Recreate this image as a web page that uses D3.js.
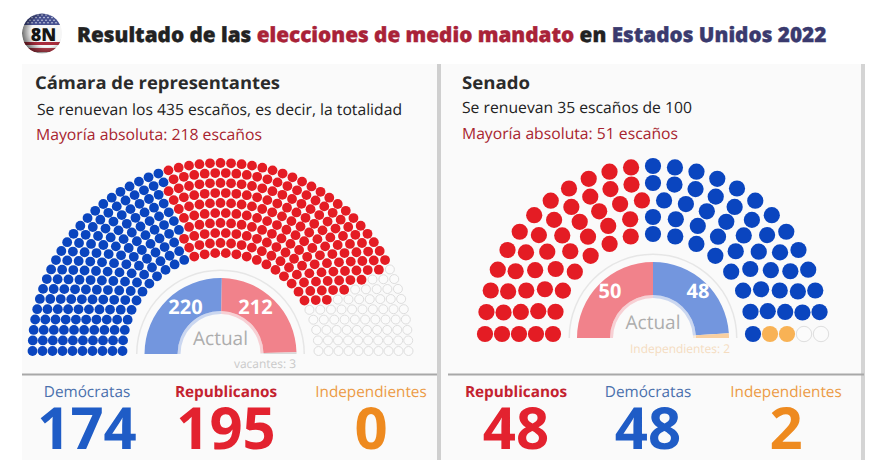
<!DOCTYPE html>
<html>
<head>
<meta charset="utf-8">
<script src="https://cdn.jsdelivr.net/npm/d3@7"></script>
<style>
  body { margin: 0; background: #fff; }
  text { font-family: "Open Sans", sans-serif; text-rendering: geometricPrecision; }
</style>
</head>
<body>
<div id="chart"></div>
<script>
// seats per party, in the order they fill the hemicycle from the left
const houseParties = ['dem', 'rep', 'ind', 'empty'];
const houseSeats = [174, 195, 0, 66];
const houseRows = [30, 33, 36, 39, 42, 45, 48, 51, 54, 57];

const senateParties = ['rep', 'dem', 'ind', 'empty'];
const senateSeats = [48, 48, 2, 2];
const senateRows = [15, 17, 20, 23, 25];

// current composition, inner gauges
const houseActual = [220, 212, 3];
const houseActualParties = ['dem', 'rep', 'vac'];
const senateActual = [50, 48, 2];
const senateActualParties = ['rep', 'dem', 'ind'];

const houseTotals = ['Demócratas', 'Republicanos', 'Independientes'];
const houseTotalValues = [174, 195, 0];
const senateTotals = ['Republicanos', 'Demócratas', 'Independientes'];
const senateTotalValues = [48, 48, 2];

const seatColor = { dem: '#0a45bf', rep: '#e41c24', ind: '#f8b255', empty: '#fbfbfb' };
const gaugeColor = { dem: '#7396de', rep: '#f1828b', ind: '#f8cfa0', vac: '#d9d9d9' };
const labelColor = { 'Demócratas': '#4a70ad', 'Republicanos': '#c4222f', 'Independientes': '#ec9a45' };
const numberColor = { 'Demócratas': '#1f5cc6', 'Republicanos': '#e3222f', 'Independientes': '#ee8a1f' };

const svg = d3.select('#chart').append('svg')
  .attr('width', 880)
  .attr('height', 460)
  .style('display', 'block');

// panels
svg.append('rect').attr('x', 22).attr('y', 64).attr('width', 415).attr('height', 396).attr('fill', '#fafafa');
svg.append('rect').attr('x', 441).attr('y', 64).attr('width', 421).attr('height', 396).attr('fill', '#fafafa');
svg.append('rect').attr('x', 437).attr('y', 64).attr('width', 4).attr('height', 396).attr('fill', '#cfcfcf');
svg.append('rect').attr('x', 861).attr('y', 64).attr('width', 4).attr('height', 396).attr('fill', '#d4d4d4');
svg.append('rect').attr('x', 22).attr('y', 373.5).attr('width', 415).attr('height', 2).attr('fill', '#a8a8a8');
svg.append('rect').attr('x', 448).attr('y', 373.5).attr('width', 416).attr('height', 2).attr('fill', '#a8a8a8');

// logo
const defs = svg.append('defs');
defs.append('clipPath').attr('id', 'logo-clip').append('circle').attr('cx', 42).attr('cy', 33.5).attr('r', 20);
const shade = defs.append('radialGradient').attr('id', 'logo-shade').attr('cx', '62%').attr('cy', '45%').attr('r', '62%');
shade.append('stop').attr('offset', '62%').attr('stop-color', '#000').attr('stop-opacity', 0);
shade.append('stop').attr('offset', '100%').attr('stop-color', '#000').attr('stop-opacity', 0.55);
const logo = svg.append('g').attr('clip-path', 'url(#logo-clip)');
logo.append('rect').attr('x', 22).attr('y', 13).attr('width', 40).attr('height', 42).attr('fill', '#f6f6f6');
logo.append('rect').attr('x', 22).attr('y', 13).attr('width', 40).attr('height', 12).attr('fill', '#46508f');
d3.range(4).forEach(row => {
  logo.append('g').selectAll('circle')
    .data(d3.range(9))
    .enter()
    .append('circle')
    .attr('cx', d => 26 + d * 4 + (row % 2) * 2)
    .attr('cy', 15 + row * 2.6)
    .attr('r', 0.8)
    .attr('fill', '#d5d8ea');
});
logo.append('rect').attr('x', 22).attr('y', 42).attr('width', 40).attr('height', 3).attr('fill', '#a82c3c');
logo.append('rect').attr('x', 22).attr('y', 48).attr('width', 40).attr('height', 4).attr('fill', '#b8404e');
logo.append('circle').attr('cx', 42).attr('cy', 33.5).attr('r', 20).attr('fill', 'url(#logo-shade)');
svg.append('text').attr('x', 43.5).attr('y', 41).attr('text-anchor', 'middle')
  .attr('font-size', 18).attr('font-weight', 800).attr('fill', '#151515').text('8N');

// title
const title = svg.append('text').attr('x', 77).attr('y', 42)
  .attr('font-size', 20.72).attr('font-weight', 800)
  .attr('stroke-width', 0.35);
title.append('tspan').attr('fill', '#222').attr('stroke', '#222').text('Resultado de las ');
title.append('tspan').attr('fill', '#a92238').attr('stroke', '#a92238').text('elecciones de medio mandato');
title.append('tspan').attr('fill', '#222').attr('stroke', '#222').text(' en ');
title.append('tspan').attr('fill', '#3a3a6e').attr('stroke', '#3a3a6e').text('Estados Unidos 2022');

function panelText(x, y, size, weight, color, str, len) {
  const t = svg.append('text').attr('x', x).attr('y', y)
    .attr('font-size', size).attr('font-weight', weight).attr('fill', color).text(str);
  if (len) t.attr('textLength', len).attr('lengthAdjust', 'spacingAndGlyphs');
  return t;
}

panelText(35, 89, 17.5, 700, '#2b2b2b', 'Cámara de representantes', 245);
panelText(37, 115, 15.5, 400, '#222', 'Se renuevan los 435 escaños, es decir, la totalidad', 365);
panelText(36, 140, 15.5, 400, '#a8242f', 'Mayoría absoluta: 218 escaños', 226);
panelText(462, 89, 17.5, 700, '#2b2b2b', 'Senado', 68);
panelText(462, 113, 15.5, 400, '#222', 'Se renuevan 35 escaños de 100', 230);
panelText(462, 139, 15.5, 400, '#a8242f', 'Mayoría absoluta: 51 escaños', 216);

// one dot per seat, rows from the inside out, filled by angle
function drawSeats(cx, cy, innerR, outerR, rows, parties, seats, dotR) {
  const rowScale = d3.scaleLinear().domain([0, rows.length - 1]).range([innerR, outerR]);
  const list = [];
  rows.forEach((count, row) => {
    const angle = d3.scaleLinear().domain([0, count - 1]).range([Math.PI, 0]);
    d3.range(count).forEach(i => {
      list.push({ row: row, a: angle(i), r: rowScale(row) });
    });
  });
  list.sort((p, q) => d3.descending(+p.a.toFixed(6), +q.a.toFixed(6)) || d3.ascending(p.row, q.row));
  const owners = parties.flatMap((p, i) => d3.range(seats[i]).map(() => p));
  svg.append('g').selectAll('circle')
    .data(list)
    .enter()
    .append('circle')
    .attr('cx', d => cx + d.r * Math.cos(d.a))
    .attr('cy', d => cy - d.r * Math.sin(d.a))
    .attr('r', (d, i) => owners[i] === 'empty' ? dotR - 0.4 : dotR)
    .attr('fill', (d, i) => seatColor[owners[i]])
    .attr('stroke', (d, i) => owners[i] === 'empty' ? '#dedede' : 'none')
    .attr('stroke-width', 1);
}

drawSeats(220.5, 351, 98, 188, houseRows, houseParties, houseSeats, 4.9);
drawSeats(653, 334, 100, 168, senateRows, senateParties, senateSeats, 8.1);

function drawGauge(cx, cy, values, parties, numbers) {
  const g = svg.append('g').attr('transform', `translate(${cx},${cy})`);
  const half = d3.pie().sort(null).startAngle(-Math.PI / 2).endAngle(Math.PI / 2);
  g.append('path')
    .attr('d', d3.arc().innerRadius(83).outerRadius(84.5).startAngle(-Math.PI / 2).endAngle(Math.PI / 2)())
    .attr('fill', '#e6e6e6');
  const arcs = half(values);
  g.selectAll('path.slice')
    .data(arcs)
    .enter()
    .append('path')
    .attr('class', 'slice')
    .attr('d', d3.arc().innerRadius(43).outerRadius(76))
    .attr('fill', (d, i) => gaugeColor[parties[i]]);
  g.selectAll('path.inner')
    .data(arcs)
    .enter()
    .append('path')
    .attr('class', 'inner')
    .attr('d', d3.arc().innerRadius(40).outerRadius(43))
    .attr('fill', (d, i) => gaugeColor[parties[i]])
    .attr('opacity', 0.35);
  g.append('text').attr('y', -9).attr('text-anchor', 'middle')
    .attr('font-size', 19).attr('fill', '#adadad').text('Actual');
  numbers.forEach(n => {
    g.append('text').attr('x', n.dx).attr('y', -40).attr('text-anchor', 'middle')
      .attr('font-size', 20).attr('font-weight', 700).attr('fill', '#fff').text(n.v);
  });
}

drawGauge(220.5, 354, houseActual, houseActualParties,
  [{ dx: -35, v: houseActual[0] }, { dx: 35, v: houseActual[1] }]);
drawGauge(653, 338, senateActual, senateActualParties,
  [{ dx: -43, v: senateActual[0] }, { dx: 45, v: senateActual[1] }]);

panelText(234, 368, 12, 400, '#c9c9c9', 'vacantes: 3', 62);
panelText(630, 353, 12, 400, '#f5dcc0', 'Independientes: 2', 100);

// totals under each panel
function drawTotals(centers, labels, values) {
  const x = d3.scaleOrdinal().domain(labels).range(centers);
  const g = svg.append('g').attr('text-anchor', 'middle');
  g.selectAll('text.label')
    .data(labels)
    .enter()
    .append('text')
    .attr('class', 'label')
    .attr('x', d => x(d))
    .attr('y', 397)
    .attr('font-size', 15.3)
    .attr('font-weight', d => d === 'Republicanos' ? 700 : 400)
    .attr('fill', d => labelColor[d])
    .text(d => d);
  g.selectAll('text.number')
    .data(labels)
    .enter()
    .append('text')
    .attr('class', 'number')
    .attr('x', d => x(d))
    .attr('y', 449)
    .attr('font-size', 58)
    .attr('font-weight', 700)
    .attr('fill', d => numberColor[d])
    .text((d, i) => values[i]);
}

drawTotals([87, 226, 371], houseTotals, houseTotalValues);
drawTotals([516, 648, 786], senateTotals, senateTotalValues);
</script>
</body>
</html>
